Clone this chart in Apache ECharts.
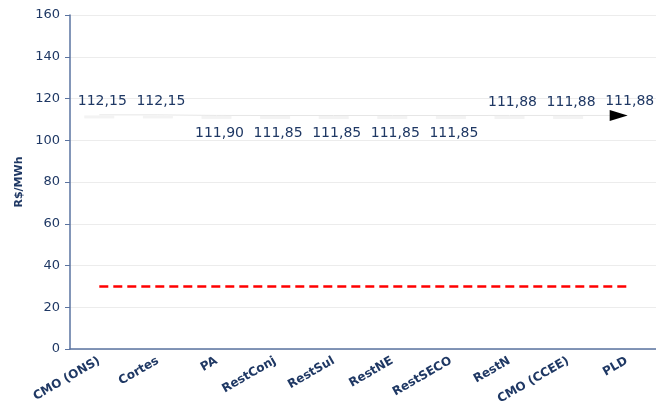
<!DOCTYPE html>
<html><head><meta charset="utf-8">
<script src="https://cdn.jsdelivr.net/npm/echarts@6/dist/echarts.min.js"></script>
<style>html,body{margin:0;padding:0;background:#fff}#c{width:656px;height:407px}</style>
</head><body><div id="c"></div>
<script>
const categories = ['CMO (ONS)','Cortes','PA','RestConj','RestSul','RestNE','RestSECO','RestN','CMO (CCEE)','PLD'];
const prices = [112.15,112.15,111.90,111.85,111.85,111.85,111.85,111.88,111.88,111.88];
const labelSide = ['top','top','bottom','bottom','bottom','bottom','bottom','top','top','top'];
const reference = [30,30,30,30,30,30,30,30,30,30];
const yTicks = {min:0,max:160,interval:20};

const navy = '#1f3864';
const chart = echarts.init(document.getElementById('c'));
chart.setOption({
  animation:false,
  grid:{left:70,right:0,top:15,bottom:58},
  xAxis:{type:'category',data:categories,
    axisLine:{lineStyle:{color:'#5a73a0',width:1.5}},
    axisTick:{lineStyle:{color:'#5a73a0'},length:4},
    axisLabel:{rotate:30,interval:0,fontFamily:'DejaVu Sans',fontWeight:'bold',fontSize:12,color:navy,margin:11}},
  yAxis:{type:'value',min:yTicks.min,max:yTicks.max,interval:yTicks.interval,
    name:'R$/MWh',nameLocation:'middle',nameGap:45,
    nameTextStyle:{fontFamily:'DejaVu Sans',fontWeight:'bold',fontSize:11,color:navy},
    axisLine:{show:true,lineStyle:{color:'#5a73a0',width:1.5}},
    axisTick:{show:true,inside:false,length:5,lineStyle:{color:'#5a73a0'}},
    axisLabel:{fontFamily:'DejaVu Sans',fontSize:13,color:navy,margin:10},
    splitLine:{lineStyle:{color:'#ececec'}}},
  series:[
    {type:'line',data:prices.map((v,i)=>{
        const d={value:v,label:{position:labelSide[i]}};
        if(i===prices.length-1){d.symbol='path://M0,0 L18,6 L0,12 Z';d.symbolSize=[18,11];d.symbolOffset=[-8,0];d.itemStyle={color:'#000'};d.label.offset=[11,5];}
        return d;}),
      symbol:'rect',symbolSize:[30,3],symbolOffset:[0,2],
      itemStyle:{color:'#f3f3f3'},
      lineStyle:{color:'#e6e6e6',width:1},
      label:{show:true,fontFamily:'DejaVu Sans',fontSize:14,color:navy,distance:7,offset:[3,0],
        formatter:p=>p.value.toFixed(2).replace('.',',')},
      z:3},
    {type:'line',data:reference,symbol:'none',
      lineStyle:{color:'#ff0000',width:2.5,type:[9,5]}}
  ]
});
</script></body></html>
